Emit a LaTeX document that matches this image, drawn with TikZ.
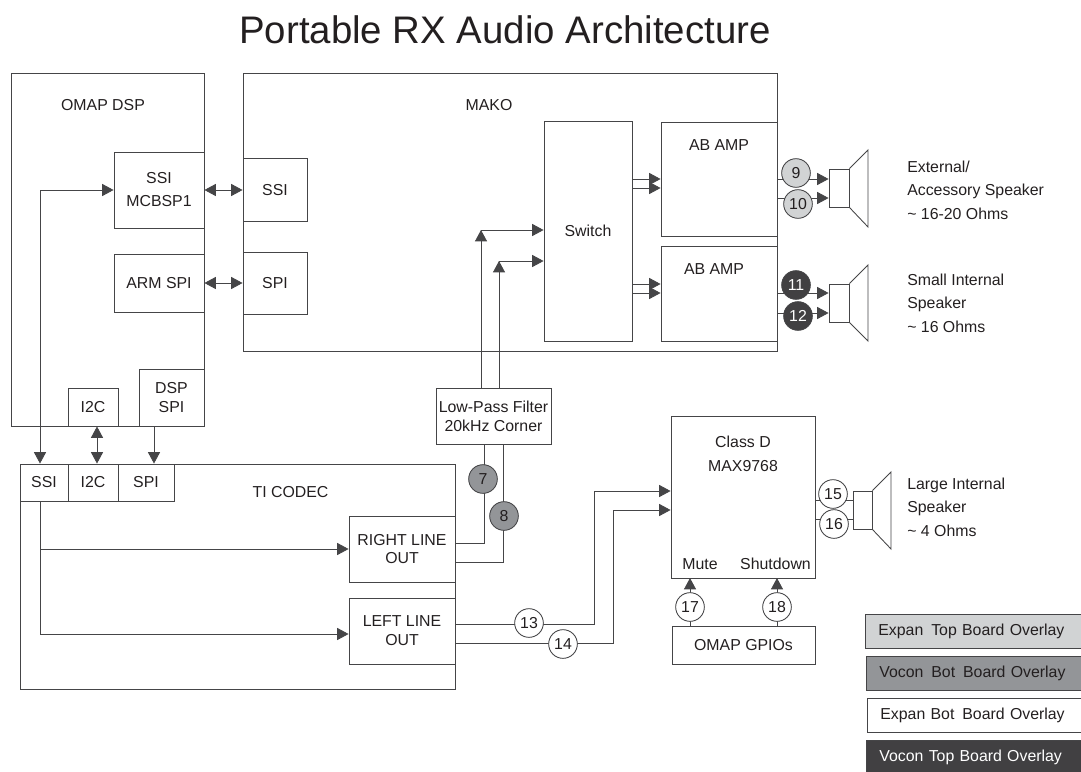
\documentclass[tikz,border=0pt]{standalone}
\usepackage{fontspec}
\setmainfont{Liberation Sans}
\usetikzlibrary{arrows.meta, calc}
\definecolor{inkline}{HTML}{454547}
\definecolor{inktext}{HTML}{231F20}
\definecolor{overlaya}{HTML}{D1D3D4}
\definecolor{overlayb}{HTML}{939598}
\definecolor{overlayc}{HTML}{414042}

\begin{document}
\begin{tikzpicture}[
    x=0.75pt, y=-0.75pt,
    >={Triangle[length=8.5pt,width=9pt]},
    every node/.style={font=\fontsize{11.9}{14.2}\selectfont, text=inktext},
    wh/.style 2 args={minimum width=#1*0.75pt, minimum height=#2*0.75pt},
    box/.style={rectangle, draw=inkline, line width=0.65pt, align=center, inner sep=0pt},
    wire/.style={draw=inkline, line width=0.65pt},
    lbl/.style={align=left, anchor=west, inner sep=0pt},
    pin/.style={circle, draw=inkline, line width=0.65pt, fill=white, minimum size=21.5pt, inner sep=0pt},
    pinlight/.style={pin, fill=overlaya},
    pinmid/.style={pin, fill=overlayb},
    pindark/.style={pin, fill=overlayc, text=white},
    legend/.style={box, anchor=west, text width=150pt, inner xsep=9.7pt, align=left, minimum height=25pt}
]
\useasboundingbox (0,0) rectangle (1081,771);

\node[font=\fontsize{28.8}{34}\selectfont] (title) at (505,30) {Portable RX Audio Architecture};

% ============================================================
% OMAP DSP
% ============================================================
\node[box, wh={193}{353}] (omap) at (107.5,249.5) {};
\node (omapname) at (103,105) {OMAP DSP};
\node[box, wh={90}{76}] (mcbsp) at (159,190) {SSI\\[3pt]MCBSP1};
\node[box, wh={90}{58}] (armspi) at (159,283) {ARM SPI};
\node[box, wh={50}{38}] (omapi2c) at (93,407) {I2C};
\node[box, wh={65}{57}] (dspspi) at (171.5,397.5) {DSP\\SPI};

% ============================================================
% MAKO
% ============================================================
\node[box, wh={534}{278}] (mako) at (510,212) {};
\node (makoname) at (489,105) {MAKO};
\node[box, wh={64}{63}] (makossi) at (275,190) {SSI};
\node[box, wh={64}{62}] (makospi) at (275,283) {SPI};
\node[box, wh={88}{220}] (switch) at (588,231) {Switch};
\node[box, wh={116}{114}] (ampa) at (719,179) {};
\node (ampaname) at (719,145) {AB AMP};
\node[box, wh={116}{95}] (ampb) at (719,293.5) {};
\node (ampbname) at (714,269) {AB AMP};

\draw[wire, <->] (mcbsp.east |- makossi) -- (makossi.west);
\draw[wire, <->] (armspi.east) -- (makospi.west);
\draw[wire, ->] (switch.east |- 0,179) -- (ampa.west |- 0,179);
\draw[wire, ->] (switch.east |- 0,188) -- (ampa.west |- 0,188);
\draw[wire, ->] (switch.east |- 0,284) -- (ampb.west |- 0,284);
\draw[wire, ->] (switch.east |- 0,293) -- (ampb.west |- 0,293);

% ============================================================
% TI CODEC
% ============================================================
\node[box, wh={435}{225}] (codec) at (237.5,576.5) {};
\node (codecname) at (290.5,492) {TI CODEC};
\node[box, wh={48}{37}] (codecssi) at (44,482.5) {SSI};
\node[box, wh={50}{37}] (codeci2c) at (93,482.5) {I2C};
\node[box, wh={56}{37}] (codecspi) at (146,482.5) {SPI};
\node[box, wh={106}{66}] (rightout) at (402,549) {RIGHT LINE\\OUT};
\node[box, wh={106}{66}] (leftout) at (402,631) {LEFT LINE\\OUT};
\node[box, wh={115}{56}] (lpf) at (493.5,416) {Low-Pass Filter\\20kHz Corner};

\coordinate (ssibus) at (40,190);
\draw[wire, <->] (mcbsp.west) -- (ssibus) -- (ssibus |- codecssi.north);
\draw[wire, <->] (omapi2c.south -| codeci2c.north) ++(4,0) -- ($(codeci2c.north)+(4,0)$);
\draw[wire, ->] (dspspi.south -| codecspi.north) ++(8,0) -- ($(codecspi.north)+(8,0)$);
\draw[wire, ->] (ssibus |- codecssi.south) |- (rightout.west);
\draw[wire, ->] (ssibus |- codecssi.south) |- (leftout.west |- 0,634);

% filter outputs into the switch
\coordinate (upa) at (481,230);
\coordinate (upb) at (499,261);
\draw[wire, ->] (upa |- lpf.north) -- (upa);
\draw[wire, ->] (upb |- lpf.north) -- (upb);
\draw[wire, ->] (upa) -- (switch.west |- upa);
\draw[wire, ->] (upb) -- (switch.west |- upb);

% line outs into the filter
\draw[wire] (rightout.east |- 0,543) -| (484,444);
\draw[wire] (rightout.east |- 0,562) -| (503,444);

% ============================================================
% CLASS D
% ============================================================
\node[box, wh={144}{162}] (classd) at (743,497) {};
\node (classdname) at (743,442) {Class D};
\node (maxname) at (743,466) {MAX9768};
\node (mute) at (700,564) {Mute};
\node (shutdown) at (775.5,564) {Shutdown};
\node[box, wh={143}{38}] (gpio) at (743.5,645) {OMAP GPIOs};

\draw[wire, ->] (leftout.east |- 0,624) -| (594,491) -- (classd.west |- 0,491);
\draw[wire, ->] (leftout.east |- 0,643) -| (613,510) -- (classd.west |- 0,510);
\draw[wire, ->] (gpio.north -| mute) ++(-10,0) -- (690,578);
\draw[wire, ->] (gpio.north -| shutdown) ++(1.5,0) -- (777,578);

% ============================================================
% SPEAKERS
% ============================================================
\node[box, wh={20}{38}] (spka) at (839,188) {};
\draw[wire] (spka.north east) -- (868,150) -- (868,227) -- (spka.south east);
\node[box, wh={20}{38}] (spkb) at (839,303) {};
\draw[wire] (spkb.north east) -- (868,265) -- (868,341) -- (spkb.south east);
\node[box, wh={19}{38}] (spkc) at (862.5,510) {};
\draw[wire] (spkc.north east) -- (891,472) -- (891,549) -- (spkc.south east);

\draw[wire, ->] (ampa.east |- 0,179) -- (spka.west |- 0,179);
\draw[wire, ->] (ampa.east |- 0,198) -- (spka.west |- 0,198);
\draw[wire, ->] (ampb.east |- 0,293) -- (spkb.west |- 0,293);
\draw[wire, ->] (ampb.east |- 0,313) -- (spkb.west |- 0,313);
\draw[wire] (classd.east |- 0,500) -- (spkc.west |- 0,500);
\draw[wire] (classd.east |- 0,519) -- (spkc.west |- 0,519);

\node[lbl] (spkatext) at (907,167) {External/};
\node[lbl] (spkatextb) at (907,191) {Accessory Speaker};
\node[lbl] (spkatextc) at (907,214) {\textasciitilde{} 16-20 Ohms};
\node[lbl] (spkbtext) at (907,280) {Small Internal};
\node[lbl] (spkbtextb) at (907,304) {Speaker};
\node[lbl] (spkbtextc) at (907,327) {\textasciitilde{} 16 Ohms};
\node[lbl] (spkctext) at (907,485) {Large Internal};
\node[lbl] (spkctextb) at (907,508) {Speaker};
\node[lbl] (spkctextc) at (907,531) {\textasciitilde{} 4 Ohms};

% ============================================================
% NUMBERED OVERLAY PINS
% ============================================================
\node[pinmid] (p7) at (483,479) {7};
\node[pinmid] (p8) at (504,516) {8};
\node[pinlight] (p9) at (796,173) {9};
\node[pinlight] (p10) at (798,204) {10};
\node[pindark] (p11) at (796,285) {11};
\node[pindark] (p12) at (798,316) {12};
\node[pin] (p13) at (529,623) {13};
\node[pin] (p14) at (563,644) {14};
\node[pin] (p15) at (833,494) {15};
\node[pin] (p16) at (834,524) {16};
\node[pin] (p17) at (690,607) {17};
\node[pin] (p18) at (777,607) {18};

% ============================================================
% LEGEND
% ============================================================
\node[legend, fill=overlaya] (lega) at (865,631.5) {Expan\ \,Top Board Overlay};
\node[legend, fill=overlayb] (legb) at (866,673.5) {Vocon\ \,Bot\ \,Board Overlay};
\node[legend] (legc) at (867,715.5) {Expan\ Bot\ \,Board Overlay};
\node[legend, fill=overlayc, text=white] (legd) at (866,757) {Vocon Top Board Overlay};

\end{tikzpicture}
\end{document}
